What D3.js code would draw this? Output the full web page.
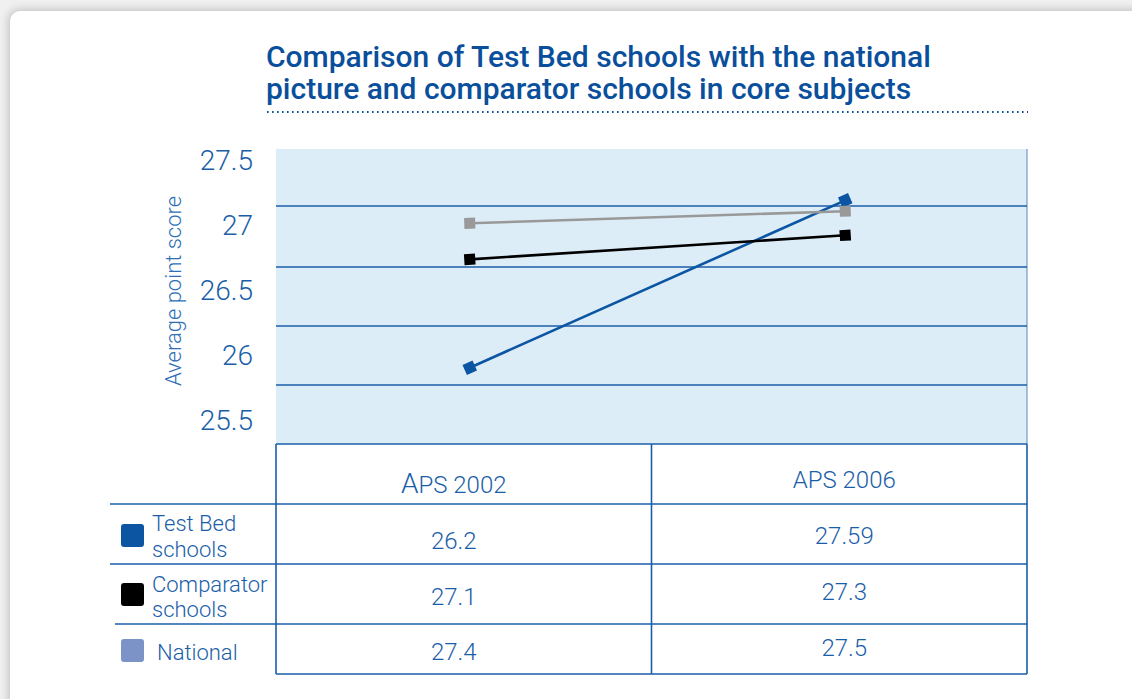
<!DOCTYPE html>
<html><head><meta charset="utf-8">
<script src="https://cdn.jsdelivr.net/npm/d3@7"></script>
<style>
html,body{margin:0;padding:0;background:#f0f0f0;overflow:hidden;}
#card{position:absolute;left:10px;top:11px;width:1200px;height:760px;background:#fff;border-radius:10px;box-shadow:0 0 8px 2px rgba(0,0,0,0.18);}
svg{position:absolute;left:0;top:0;}
</style></head>
<body><div id="card"></div><svg id="chart" width="1132" height="699"></svg>
<script>
const categories = ["APS 2002", "APS 2006"];
const seriesNames = ["Test Bed schools", "Comparator schools", "National"];
const testBed = [26.2, 27.59];
const comparator = [27.1, 27.3];
const national = [27.4, 27.5];
const tableText = [["26.2", "27.59"], ["27.1", "27.3"], ["27.4", "27.5"]];
const yTickLabels = [25.5, 26, 26.5, 27, 27.5];
const titleLines = ["Comparison of Test Bed schools with the national", "picture and comparator schools in core subjects"];

const BLUE = "#1a5ea8", TITLE = "#0a4f9b";
const series = [
  {name: seriesNames[0], values: testBed, line: "#0b55a3", swatch: "#0b55a3", legend: ["Test Bed", "schools"]},
  {name: seriesNames[1], values: comparator, line: "#000000", swatch: "#000000", legend: ["Comparator", "schools"]},
  {name: seriesNames[2], values: national, line: "#999999", swatch: "#7b93c6", legend: ["National"]}
];

const svg = d3.select("#chart");
const font = "Roboto, 'Open Sans', sans-serif";

// plot geometry
const L = 276, R = 1027, T = 149, B = 444;
const x = d3.scaleBand().domain(categories).range([L, R]);
const y = d3.scaleLinear().domain([25.5, 28]).range([452, 151]);
const grid = d3.scaleLinear().domain([0, 5]).range([T, B]);
const labelY = d3.scaleLinear().domain([25.5, 27.5]).range([420, 160]);
const px = c => x(c) + x.bandwidth() / 2 + 6;

// title
svg.selectAll("text.title").data(titleLines).join("text")
  .attr("class", "title").attr("x", 266).attr("y", (d, i) => 67 + i * 32)
  .attr("fill", TITLE).attr("font-family", font).attr("font-weight", 500)
  .attr("font-size", 30).text(d => d);
svg.append("line").attr("x1", 267).attr("x2", 1028).attr("y1", 112).attr("y2", 112)
  .attr("stroke", TITLE).attr("stroke-width", 2).attr("stroke-dasharray", "1.6,3.4").attr("stroke-linecap", "butt");

// plot background
svg.append("rect").attr("x", L).attr("y", T).attr("width", R - L).attr("height", B - T).attr("fill", "#ddedf8");
svg.append("line").attr("x1", R).attr("x2", R).attr("y1", T).attr("y2", B).attr("stroke", "#5b86bd").attr("stroke-width", 1);

// gridlines
svg.selectAll("line.grid").data(d3.range(1, 5)).join("line").attr("class", "grid")
  .attr("x1", L).attr("x2", R).attr("y1", d => grid(d) - (d === 1 ? 2 : 0)).attr("y2", d => grid(d) - (d === 1 ? 2 : 0))
  .attr("stroke", BLUE).attr("stroke-width", 1.5);

// y labels via axis
const yAxis = d3.axisLeft(labelY).tickValues(yTickLabels).tickSize(0).tickPadding(0).tickFormat(d => d3.format("")(d));
const ya = svg.append("g").attr("transform", "translate(253,0)").call(yAxis);
ya.select(".domain").remove();
ya.selectAll("text").attr("fill", BLUE).attr("font-family", font).attr("font-weight", 300).attr("font-size", 28).attr("dy", "0.35em");

svg.append("text").attr("transform", "translate(181,291) rotate(-90)").attr("text-anchor", "middle")
  .attr("fill", "#2f6fb5").attr("font-family", font).attr("font-weight", 300).attr("font-size", 22).text("Average point score");

// lines and markers
const lineGen = d3.line().x((d, i) => px(categories[i])).y(d => y(d));
series.forEach(s => {
  svg.append("path").datum(s.values).attr("d", lineGen).attr("fill", "none").attr("stroke", s.line).attr("stroke-width", 2.6);
  const x0 = px(categories[0]), x1 = px(categories[1]);
  const ang = Math.atan2(y(s.values[1]) - y(s.values[0]), x1 - x0) * 180 / Math.PI;
  svg.selectAll(null).data(s.values).join("rect")
    .attr("x", -5.5).attr("y", -5.5).attr("width", 11).attr("height", 11).attr("fill", s.line)
    .attr("transform", (d, i) => `translate(${px(categories[i])},${y(d)}) rotate(${ang})`);
});

// table
const rowY = d3.scaleLinear().domain([0, 1, 2, 3, 4]).range([444, 504, 564, 624, 674]);
const tbl = svg.append("g").attr("stroke", BLUE).attr("stroke-width", 1.6);
tbl.append("line").attr("x1", L).attr("x2", R).attr("y1", rowY(0)).attr("y2", rowY(0));
tbl.selectAll("line.row").data([1, 2, 3]).join("line").attr("class", "row")
  .attr("x1", d => d === 3 ? 115 : 110).attr("x2", R).attr("y1", d => rowY(d)).attr("y2", d => rowY(d));
tbl.append("line").attr("x1", L).attr("x2", R).attr("y1", rowY(4)).attr("y2", rowY(4));
tbl.selectAll("line.col").data([L, x(categories[1]), R]).join("line").attr("class", "col")
  .attr("x1", d => d).attr("x2", d => d).attr("y1", rowY(0)).attr("y2", rowY(4));

// header
const hdr = svg.selectAll("text.hdr").data(categories).join("text").attr("class", "hdr")
  .attr("x", (d, i) => x(d) + x.bandwidth() / 2 + (i === 0 ? -10 : 5)).attr("y", (d, i) => i === 0 ? 493 : 488)
  .attr("text-anchor", "middle").attr("fill", BLUE).attr("font-family", font).attr("font-weight", 300).attr("font-size", 24);
hdr.each(function(d, i) {
  const t = d3.select(this);
  if (i === 0) {
    t.append("tspan").attr("font-size", 28).text(d[0]);
    t.append("tspan").text(d.slice(1));
  } else t.text(d);
});

// values
const offs = [[15, 10], [11, 6], [11, 7]];
tableText.forEach((row, r) => {
  const cy = (rowY(r + 1) + rowY(r + 2)) / 2;
  svg.selectAll(null).data(row).join("text")
    .attr("x", (d, i) => x(categories[i]) + x.bandwidth() / 2 + (i === 0 ? -10 : 5))
    .attr("y", (d, i) => cy + offs[r][i])
    .attr("text-anchor", "middle").attr("fill", BLUE).attr("font-family", font).attr("font-weight", 300).attr("font-size", 24)
    .text(d => d);
});

// legend
const swTop = [524, 583, 639];
const legBase = [[531, 557], [592, 617], [660]];
series.forEach((s, r) => {
  svg.append("rect").attr("x", 121).attr("y", swTop[r]).attr("width", 23).attr("height", 23).attr("rx", 3).attr("fill", s.swatch);
  const lines = s.legend;
  svg.selectAll(null).data(lines).join("text")
    .attr("x", lines.length === 1 ? 157 : 152)
    .attr("y", (d, i) => legBase[r][i])
    .attr("fill", BLUE).attr("font-family", font).attr("font-weight", 300).attr("font-size", 22).text(d => d);
});
</script></body></html>
